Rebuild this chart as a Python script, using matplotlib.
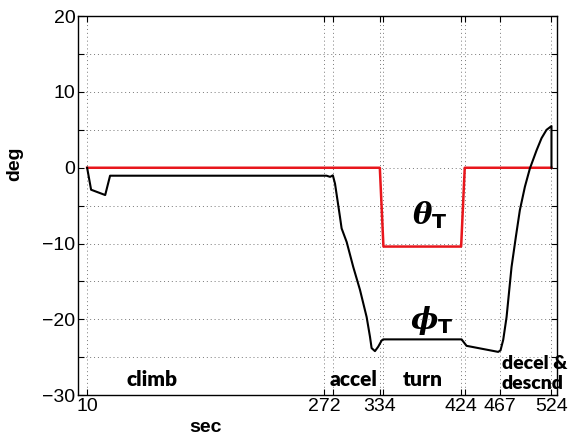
import matplotlib
matplotlib.use("Agg")
import matplotlib.pyplot as plt
import numpy as np

plt.rcParams['font.family'] = ['Liberation Sans', 'DejaVu Sans']
plt.rcParams['mathtext.fontset'] = 'custom'
plt.rcParams['mathtext.it'] = 'DejaVu Serif:italic:bold'
plt.rcParams['mathtext.bf'] = 'DejaVu Sans:bold'
plt.rcParams['mathtext.rm'] = 'DejaVu Sans'

# commanded pitch theta_T (red)
t_theta = [10, 334, 338, 424, 428, 524]
theta = [0, 0, -10.4, -10.4, 0, 0]

# commanded bank phi_T (black)
t_phi = [10, 14.4, 30, 35.4, 275, 279, 282, 284.4, 289.9, 291.7, 297.3, 304.6, 312,
         319.4, 323.1, 324.9, 328.6, 332.3, 336, 337.8, 424.5, 430, 465, 467.6, 470.6,
         474.3, 479.8, 484.6, 489, 494.6, 500.1, 507.5, 513, 518.5, 524, 524]
phi = [0, -2.9, -3.6, -1.05, -1.05, -1.2, -1.0, -2.1, -6.5, -8.0, -9.8, -13.1, -16.1,
       -19.7, -22.3, -23.8, -24.2, -23.6, -22.8, -22.65, -22.65, -23.5, -24.3, -24.1, -22.7,
       -19.7, -13.1, -9.1, -5.6, -2.5, -0.1, 2.3, 3.9, 5.0, 5.5, 0]

xticks_major = [10, 272, 334, 424, 467, 524]
xticks_minor = [282, 338, 428]
yticks = [-30, -20, -10, 0, 10, 20]

phases = ["climb", "accel", "turn"]
phase_x = [82, 305, 381]

fig = plt.figure(figsize=(5.7, 4.38), dpi=100)
ax = fig.add_axes([0.137, 0.098, 0.840, 0.865])

ax.plot(t_theta, theta, color='#e8161c', lw=1.8)
ax.plot(t_phi, phi, color='black', lw=1.5)

ax.set_xlim(0, 530)
ax.set_ylim(-30, 20)
ax.set_xticks(xticks_major)
ax.set_xticks(xticks_minor, minor=True)
ax.set_yticks(yticks)
ax.set_yticks(np.arange(-25, 20, 10), minor=True)
ax.tick_params(which='both', direction='in', top=True, right=True, labelsize=14,
               length=4, width=0.8, pad=2)
ax.grid(which='both', linestyle=(0, (1, 3)), color='#777777', lw=0.7)

ax.set_xlabel('sec', fontsize=14, fontweight='bold')
ax.xaxis.set_label_coords(0.267, -0.062)
ax.set_ylabel('deg', fontsize=14, fontweight='bold')
ax.yaxis.set_label_coords(-0.115, 0.61)

for name, x in zip(phases, phase_x):
    ax.text(x, -27.9, name, fontsize=15, fontweight='heavy', family='Lato',
            ha='center', va='center')
ax.text(469, -27.1, "decel &\ndescnd", fontsize=14, fontweight='heavy', family='Lato',
        ha='left', va='center', linespacing=1.2)

ax.text(389, -6.3, r'$\theta_{\mathbf{T}}$', fontsize=21, ha='center', va='center')
ax.text(391, -20.2, r'$\phi_{\mathbf{T}}$', fontsize=21, ha='center', va='center')

for s in ax.spines.values():
    s.set_linewidth(1.0)

fig.savefig('out.png', dpi=100)
